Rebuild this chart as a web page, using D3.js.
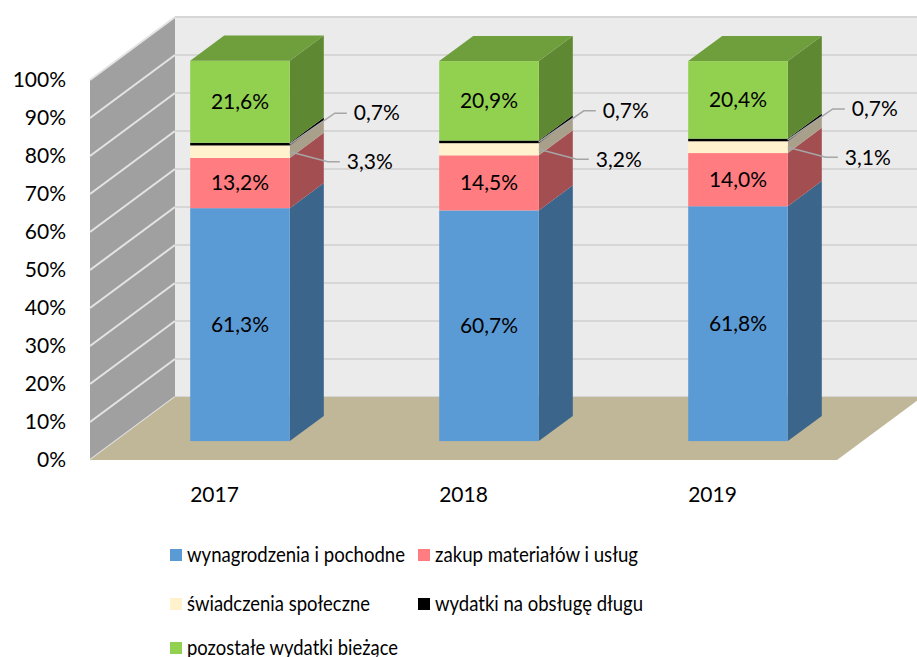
<!DOCTYPE html>
<html>
<head>
<meta charset="utf-8">
<script src="https://cdn.jsdelivr.net/npm/d3@7"></script>
<style>
  body { margin: 0; background: #fff; }
  svg text { font-family: Lato, "Open Sans", sans-serif; fill: #000; }
</style>
</head>
<body>
<div id="chart"></div>
<script>
// data
const years = ["2017", "2018", "2019"];
const seriesNames = [
  "wynagrodzenia i pochodne",
  "zakup materiałów i usług",
  "świadczenia społeczne",
  "wydatki na obsługę długu",
  "pozostałe wydatki bieżące"
];
const wynagrodzenia = [61.3, 60.7, 61.8];
const zakup = [13.2, 14.5, 14.0];
const swiadczenia = [3.3, 3.2, 3.1];
const dlug = [0.7, 0.7, 0.7];
const pozostale = [21.6, 20.9, 20.4];
const yTicks = [0, 10, 20, 30, 40, 50, 60, 70, 80, 90, 100];

const series = [wynagrodzenia, zakup, swiadczenia, dlug, pozostale];
const frontColors = ["#5B9BD5", "#FF7C80", "#FFF2CC", "#000000", "#92D050"];
const sideColors = ["#3B658A", "#A34F52", "#A8A08A", "#000000", "#5F8833"];
const topColor = "#6F9E3D";

const width = 917, height = 657;
// depth of the 3D box (front plane -> back wall)
const depthX = 85, depthY = 63;
const barD0 = 0.3, barD1 = 0.7;

const svg = d3.select("#chart").append("svg")
  .attr("width", width).attr("height", height);

const x = d3.scaleBand().domain(years).range([90, 837])
  .paddingInner(0.6).paddingOuter(0.3);
const y = d3.scaleLinear().domain([0, 100]).range([460, 80]);

const loc = d3.formatLocale({ decimal: ",", thousands: " ", grouping: [3], currency: ["", ""] });
const fmt = loc.format(".1f");

// project point from the front plane back by depth d (0..1)
const px = (xv, d) => xv + d * depthX;
const py = (v, d) => y(v) - d * depthY;
const poly = pts => pts.map(p => p.join(",")).join(" ");

//back wall
svg.append("polygon")
  .attr("points", poly([[px(90, 1), py(100, 1)], [width, py(100, 1)], [width, py(0, 1)], [px(90, 1), py(0, 1)]]))
  .attr("fill", "#EBEBEB");
svg.selectAll(".grid").data(yTicks).enter().append("line")
  .attr("x1", px(90, 1)).attr("x2", width)
  .attr("y1", d => py(d, 1)).attr("y2", d => py(d, 1))
  .attr("stroke", "#D6D6D6").attr("stroke-width", 2);

//side wall
svg.append("polygon")
  .attr("points", poly([[px(90, 0), py(100, 0)], [px(90, 1), py(100, 1)], [px(90, 1), py(0, 1)], [px(90, 0), py(0, 0)]]))
  .attr("fill", "#A0A0A0");
svg.selectAll(".sgrid").data(yTicks).enter().append("line")
  .attr("x1", px(90, 0)).attr("x2", px(90, 1))
  .attr("y1", d => py(d, 0)).attr("y2", d => py(d, 1))
  .attr("stroke", "#E4E4E4").attr("stroke-width", 2);

//floor
svg.append("polygon")
  .attr("points", poly([[px(90, 0), py(0, 0)], [px(90, 1), py(0, 1)], [px(837, 1), py(0, 1)], [px(837, 0), py(0, 0)]]))
  .attr("fill", "#C0B799");

//y labels
svg.selectAll(".ylab").data(yTicks).enter().append("text")
  .attr("x", 66).attr("y", d => y(d)).attr("dy", "0.35em")
  .attr("text-anchor", "end").style("font-size", "21px")
  .text(d => d + "%");

//x labels
svg.selectAll(".xlab").data(years).enter().append("text")
  .attr("x", d => x(d) + x.bandwidth() / 2).attr("y", 495).attr("dy", "0.35em")
  .attr("text-anchor", "middle").style("font-size", "21px")
  .text(d => d);

//bars
years.forEach((yr, i) => {
  const xl = px(x(yr), barD0);
  const xr = xl + x.bandwidth();
  const ddx = (barD1 - barD0) * depthX, ddy = (barD1 - barD0) * depthY;
  const g = svg.append("g");
  let base = 0;
  const segs = series.map((s, k) => {
    const seg = { k, v0: base, v1: base + s[i], val: s[i] };
    base += s[i];
    return seg;
  });
  segs.forEach(s => {
    const yt = py(s.v1, barD0), yb = py(s.v0, barD0);
    g.append("polygon")
      .attr("points", poly([[xr, yb], [xr, yt], [xr + ddx, yt - ddy], [xr + ddx, yb - ddy]]))
      .attr("fill", sideColors[s.k]);
    g.append("rect")
      .attr("x", xl).attr("y", yt).attr("width", x.bandwidth()).attr("height", yb - yt)
      .attr("fill", frontColors[s.k]);
  });
  const top = segs[segs.length - 1];
  const yt = py(top.v1, barD0);
  g.append("polygon")
    .attr("points", poly([[xl, yt], [xl + ddx, yt - ddy], [xr + ddx, yt - ddy], [xr, yt]]))
    .attr("fill", topColor);

  // labels inside big segments
  segs.filter(s => s.val > 10).forEach(s => {
    g.append("text")
      .attr("x", (xl + xr) / 2).attr("y", py((s.v0 + s.v1) / 2, barD0)).attr("dy", "0.35em")
      .attr("text-anchor", "middle").style("font-size", "21px")
      .text(fmt(s.val) + "%");
  });

  // outside labels with leader lines
  const small = [
    { s: segs[3], off: -31, elbow: 45, end: 57, tx: 64 },
    { s: segs[2], off: 10, elbow: 38, end: 50, tx: 57 }
  ];
  small.forEach(o => {
    const sy = py((o.s.v0 + o.s.v1) / 2, barD0);
    const ly = sy + o.off;
    g.append("polyline")
      .attr("points", poly([[xr, sy], [xr + o.elbow, ly], [xr + o.end, ly]]))
      .attr("fill", "none").attr("stroke", "#A6A6A6").attr("stroke-width", 1.5);
    g.append("text")
      .attr("x", xr + o.tx).attr("y", ly).attr("dy", "0.35em")
      .style("font-size", "21px")
      .text(fmt(o.s.val) + "%");
  });
});

//legend
const legendPos = [[170, 555], [418, 555], [170, 604], [418, 604], [170, 648]];
const legendW = [218, 203, 183, 208, 211];
const lg = svg.selectAll(".leg").data(seriesNames).enter().append("g")
  .attr("transform", (d, k) => `translate(${legendPos[k][0]},${legendPos[k][1]})`);
lg.append("rect").attr("x", 0).attr("y", -6).attr("width", 12).attr("height", 12)
  .attr("fill", (d, k) => frontColors[k]);
lg.append("text").attr("x", 17).attr("y", 0).attr("dy", "0.35em")
  .attr("textLength", (d, k) => legendW[k]).attr("lengthAdjust", "spacingAndGlyphs")
  .style("font-size", "21px").text(d => d);
</script>
</body>
</html>
